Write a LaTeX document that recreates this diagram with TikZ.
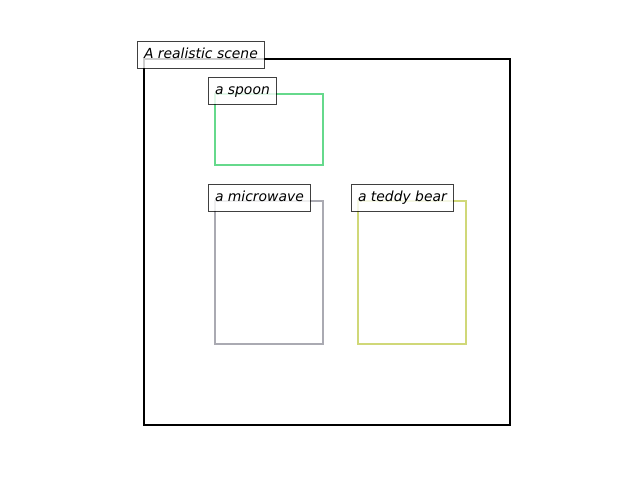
\documentclass[tikz,border=0pt]{standalone}
\usepackage{fontspec}
\setmainfont{DejaVu Sans}
\definecolor{spoon}{RGB}{102,217,140}
\definecolor{micro}{RGB}{170,170,178}
\definecolor{teddy}{RGB}{208,216,120}
\begin{document}
\begin{tikzpicture}[x=1pt,y=-1pt,
  objbox/.style={draw,line width=2pt,inner sep=0pt,anchor=north west},
  lbl/.style={draw=black,draw opacity=0.75,fill=white,fill opacity=0.8,text opacity=1,line width=1pt,
    anchor=west,inner xsep=6.5pt,inner ysep=0pt,minimum height=27pt,text height=10.5pt,text depth=2.5pt,
    font=\fontsize{13.9}{16}\selectfont\itshape}]
\useasboundingbox (0,0) rectangle (640,480);
\node[objbox,draw=black,minimum width=366pt,minimum height=366pt] (scene) at (142.5,57.5) {};
\node[objbox,draw=spoon,minimum width=108pt,minimum height=71pt] (spoon) at (213.5,92.5) {};
\node[objbox,draw=micro,minimum width=108pt,minimum height=143pt] (micro) at (213.5,199.5) {};
\node[objbox,draw=teddy,minimum width=108pt,minimum height=143pt] (teddy) at (356.5,199.5) {};
\node[lbl] (lscene) at (137,54.5) {A realistic scene};
\node[lbl] (lspoon) at (208,90.5) {a spoon};
\node[lbl] (lmicro) at (208,197.5) {a microwave};
\node[lbl] (lteddy) at (351,197.5) {a teddy bear};
\end{tikzpicture}
\end{document}
